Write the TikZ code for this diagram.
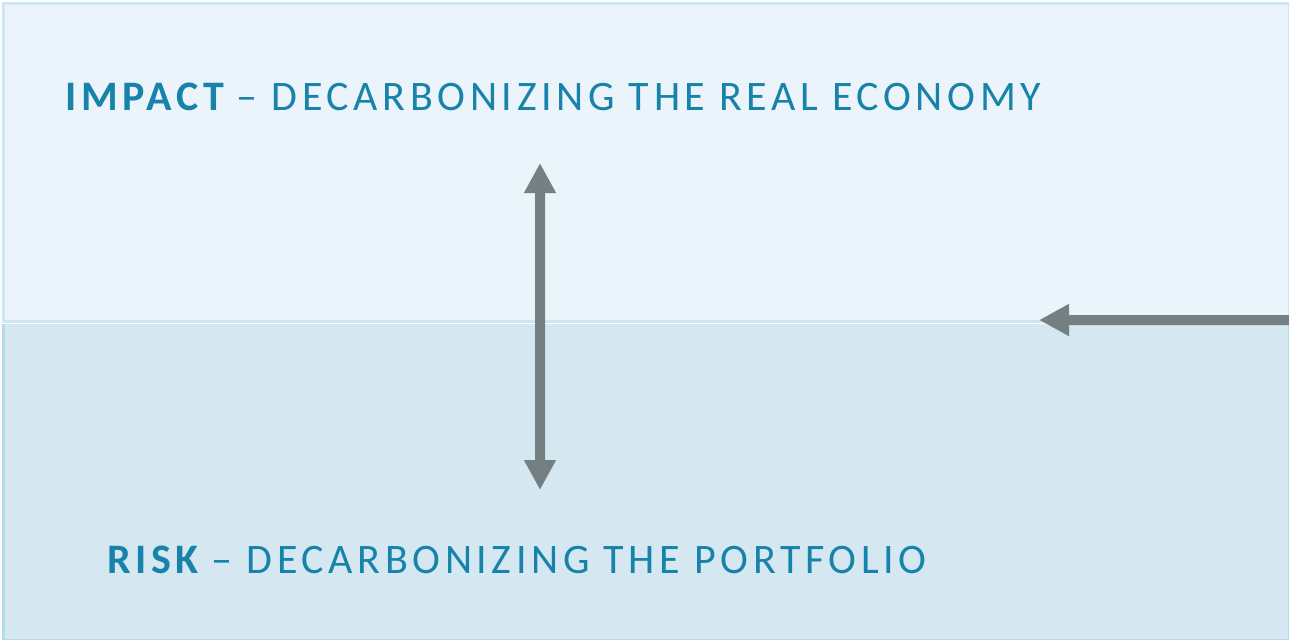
\documentclass[tikz,border=0pt]{standalone}
\usepackage{fontspec}
\setmainfont{Carlito}
\newfontfamily\spaced[LetterSpace=11]{Carlito}
\usetikzlibrary{arrows.meta}
\definecolor{topfill}{HTML}{EBF4FA}
\definecolor{topline}{HTML}{CAE6F3}
\definecolor{lowfill}{HTML}{D5E8F1}
\definecolor{lowline}{HTML}{B5DCEC}
\definecolor{textblue}{HTML}{1783AA}
\definecolor{arrowgrey}{HTML}{6A7477}
\newcommand{\lead}[1]{\textbf{#1}\kern-3pt\relax}

\begin{document}
\begin{tikzpicture}[x=0.5pt, y=-0.5pt,
	box/.style={draw, line width=1.5pt, inner sep=0pt, anchor=north west},
	title/.style={anchor=base west, inner sep=0pt, text=textblue, font=\spaced\fontsize{21}{25}\selectfont},
	bigarrow/.style={draw=arrowgrey, fill=arrowgrey, line width=5pt,
		arrows={-Triangle[width=15pt, length=15pt]}}]
	\useasboundingbox (0,0) rectangle (1289,639);
	%%%nodes
	%boxes
	\node[box, fill=lowfill, draw=lowline, minimum width=643pt, minimum height=159.5pt] (low) at (1.5,320) {};
	\node[box, fill=topfill, draw=topline, minimum width=643pt, minimum height=159.25pt] (top) at (1.5,1.5) {};
	\draw[white, line width=0.5pt] (top.south west) -- (top.south east);
	%titles
	\node[title] (impact) at (65,110) {\lead{IMPACT} – DECARBONIZING THE REAL ECONOMY};
	\node[title] (risk) at (107,573) {\lead{RISK} – DECARBONIZING THE PORTFOLIO};
	%%%links
	\coordinate (up) at (540,163);
	\coordinate (down) at (540,490);
	\coordinate (edge) at (1289,320);
	\coordinate (tip) at (1039,320);
	\begin{scope}[transparency group, opacity=0.9]
	\draw[bigarrow, arrows={Triangle[width=15pt, length=15pt]-Triangle[width=15pt, length=15pt]}] (down) -- (up);
	\end{scope}
	\begin{scope}[transparency group, opacity=0.9]
	\draw[bigarrow] (edge) -- (tip);
	\end{scope}
\end{tikzpicture}
\end{document}
